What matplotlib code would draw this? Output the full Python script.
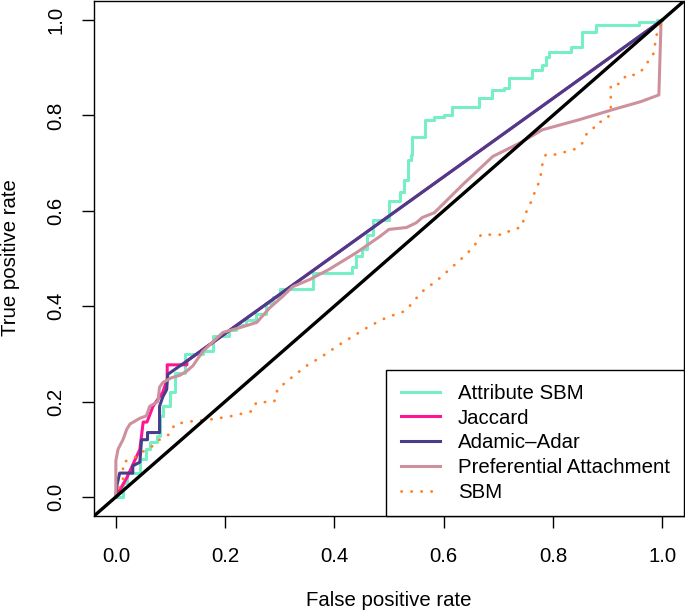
import matplotlib
matplotlib.use("Agg")
import matplotlib.pyplot as plt

plt.rcParams['font.family'] = ['Liberation Sans', 'DejaVu Sans']

# Attribute SBM (step ROC): x where y jumps, and new y level
asbm_fpr = [0.0, 0.013, 0.02, 0.044, 0.056, 0.062, 0.075, 0.08, 0.086, 0.099, 0.108,
            0.126, 0.16, 0.177, 0.208, 0.22, 0.239, 0.257, 0.275, 0.287, 0.30, 0.36,
            0.433, 0.44, 0.45, 0.46, 0.47, 0.50, 0.52, 0.528, 0.534, 0.541, 0.543,
            0.565, 0.583, 0.601, 0.616, 0.665, 0.689, 0.711, 0.72, 0.762, 0.78, 0.788,
            0.793, 0.834, 0.854, 0.879, 0.958, 0.99, 1.0]
asbm_tpr = [0.0, 0.03, 0.05, 0.08, 0.10, 0.115, 0.128, 0.17, 0.19, 0.22, 0.26,
            0.30, 0.305, 0.337, 0.35, 0.36, 0.372, 0.383, 0.407, 0.42, 0.437, 0.47,
            0.483, 0.505, 0.52, 0.55, 0.58, 0.62, 0.64, 0.665, 0.707, 0.718, 0.755,
            0.79, 0.797, 0.80, 0.818, 0.837, 0.853, 0.857, 0.878, 0.895, 0.905, 0.923,
            0.933, 0.944, 0.975, 0.99, 0.995, 1.0, 1.0]

jac_fpr = [0.0, 0.02, 0.044, 0.05, 0.057, 0.068, 0.086, 0.094, 0.094, 0.13, 0.13, 1.0]
jac_tpr = [0.0, 0.04, 0.10, 0.157, 0.157, 0.19, 0.22, 0.247, 0.277, 0.277, 0.285, 1.0]

aa_fpr = [0.0, 0.002, 0.007, 0.031, 0.031, 0.044, 0.047, 0.058, 0.058, 0.08, 0.08,
          0.086, 0.093, 0.095, 0.13, 1.0]
aa_tpr = [0.0, 0.025, 0.05, 0.05, 0.065, 0.073, 0.12, 0.12, 0.135, 0.135, 0.19,
          0.21, 0.225, 0.257, 0.285, 1.0]

pa_fpr = [0.0, 0.0, 0.004, 0.013, 0.02, 0.026, 0.044, 0.056, 0.062, 0.077, 0.08, 0.086,
          0.102, 0.117, 0.13, 0.141, 0.159, 0.196, 0.227, 0.258, 0.282, 0.305, 0.324,
          0.355, 0.39, 0.44, 0.483, 0.50, 0.532, 0.55, 0.561, 0.583, 0.635, 0.69,
          0.739, 0.781, 0.848, 0.909, 0.961, 0.994, 0.998, 1.0]
pa_tpr = [0.0, 0.076, 0.10, 0.12, 0.142, 0.153, 0.165, 0.17, 0.19, 0.20, 0.23, 0.24,
          0.25, 0.255, 0.264, 0.275, 0.305, 0.345, 0.355, 0.366, 0.397, 0.42, 0.441,
          0.456, 0.477, 0.512, 0.546, 0.561, 0.565, 0.575, 0.586, 0.596, 0.655, 0.714,
          0.742, 0.77, 0.791, 0.812, 0.829, 0.843, 0.996, 1.0]

sbm_fpr = [0.0, 0.004, 0.013, 0.013, 0.031, 0.056, 0.068, 0.08, 0.099, 0.108, 0.141,
           0.177, 0.214, 0.25, 0.257, 0.29, 0.296, 0.318, 0.349, 0.378, 0.41, 0.44,
           0.464, 0.495, 0.53, 0.56, 0.59, 0.641, 0.653, 0.665, 0.668, 0.693, 0.711,
           0.724, 0.742, 0.748, 0.753, 0.762, 0.767, 0.775, 0.779, 0.781, 0.787, 0.806,
           0.824, 0.842, 0.854, 0.861, 0.873, 0.879, 0.897, 0.906, 0.906, 0.906, 0.906,
           0.916, 0.927, 0.934, 0.952, 0.963, 0.972, 0.982, 0.987, 0.987, 0.994, 1.0]
sbm_tpr = [0.0, 0.017, 0.03, 0.073, 0.08, 0.10, 0.107, 0.12, 0.132, 0.153, 0.159,
           0.163, 0.17, 0.18, 0.198, 0.20, 0.226, 0.247, 0.275, 0.295, 0.32, 0.341,
           0.358, 0.376, 0.39, 0.43, 0.456, 0.508, 0.523, 0.54, 0.55, 0.55, 0.55,
           0.561, 0.565, 0.586, 0.603, 0.623, 0.64, 0.661, 0.682, 0.70, 0.718, 0.718,
           0.724, 0.73, 0.742, 0.76, 0.77, 0.784, 0.79, 0.805, 0.826, 0.843, 0.864,
           0.864, 0.87, 0.885, 0.885, 0.895, 0.91, 0.923, 0.94, 0.962, 0.979, 1.0]

labels = ['Attribute SBM', 'Jaccard', 'Adamic\u2013Adar', 'Preferential Attachment', 'SBM']
colors = ['#76EEC6', '#FF1493', '#483D8B', '#CD919E', '#FF7F24']

fs = 14.7
fig = plt.figure(figsize=(6.85, 6.15), dpi=100)
ax = fig.add_axes([94 / 685, 99 / 615, 590 / 685, 515 / 615])

lw = 2.2
ax.plot(asbm_fpr, asbm_tpr, drawstyle='steps-post', color=colors[0], lw=lw, label=labels[0])
ax.plot(jac_fpr, jac_tpr, color=colors[1], lw=lw, label=labels[1])
ax.plot(aa_fpr, aa_tpr, color=colors[2], lw=lw, label=labels[2])
ax.plot(pa_fpr, pa_tpr, color=colors[3], lw=lw, label=labels[3])
ax.plot(sbm_fpr, sbm_tpr, color=colors[4], lw=2.0, linestyle=(0, (0.1, 3.5)),
        dash_capstyle='round', label=labels[4])
ax.axline((0, 0), slope=1, color='black', lw=2.4)

ax.set_xlim(-0.04, 1.04)
ax.set_ylim(-0.04, 1.04)
ticks = [0.0, 0.2, 0.4, 0.6, 0.8, 1.0]
ax.set_xticks(ticks)
ax.set_yticks(ticks)
ax.set_xticklabels(['%.1f' % t for t in ticks])
ax.set_yticklabels(['%.1f' % t for t in ticks], rotation=90, va='center')
ax.tick_params(axis='both', direction='out', length=8.5, width=1.0, labelsize=fs)
ax.tick_params(axis='x', pad=14)
ax.tick_params(axis='y', pad=12)
for sp in ax.spines.values():
    sp.set_linewidth(1.0)

fig.text(0.5 * (94 + 684) / 685, 1 - 601 / 615, 'False positive rate', ha='center', va='center', fontsize=fs)
fig.text(11 / 685, 1 - 258 / 615, 'True positive rate', ha='center', va='center', rotation=90, fontsize=fs)

leg = ax.legend(loc='lower right', borderaxespad=0, fancybox=False, edgecolor='black',
                fontsize=fs, handlelength=1.95, handletextpad=0.85, borderpad=0.7,
                labelspacing=0.28, framealpha=1)
leg.get_frame().set_linewidth(1.0)

fig.savefig('out.png', dpi=100)
